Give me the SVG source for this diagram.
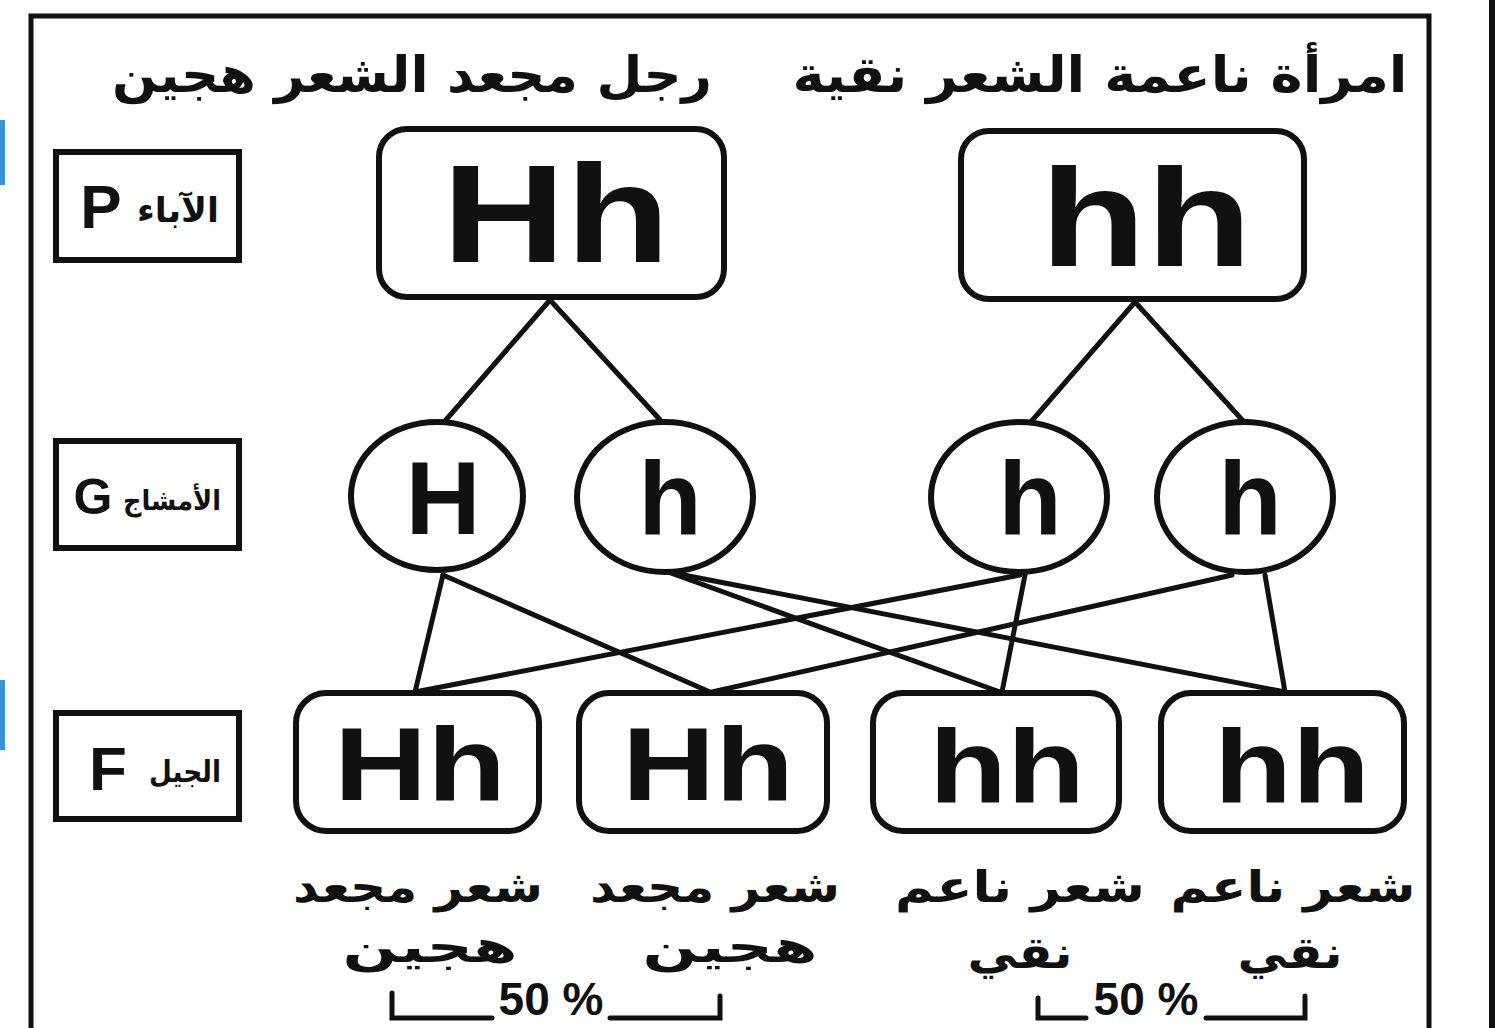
<svg xmlns="http://www.w3.org/2000/svg" width="1504" height="1028" viewBox="0 0 1504 1028">
<style>
.frame{fill:#fff;stroke:#111;stroke-width:5}
.box{fill:#fff;stroke:#111;stroke-width:6}
.lbl{fill:#fff;stroke:#111;stroke-width:6}
.con{stroke:#111;stroke-width:5;fill:none;stroke-linecap:round}
.big{font-family:"Liberation Sans",Arial,sans-serif;font-weight:bold;fill:#111;text-anchor:middle}
.ar{font-family:"DejaVu Sans",sans-serif;font-weight:bold;fill:#111;text-anchor:middle}
.num{font-family:"Liberation Sans",Arial,sans-serif;font-weight:bold;fill:#111;text-anchor:middle;font-size:46px}
</style>
<rect x="0" y="0" width="1504" height="1028" fill="#fff"/>
<rect x="0" y="120" width="5" height="65" fill="#3d8fd8"/>
<rect x="0" y="680" width="5" height="70" fill="#3d8fd8"/>
<rect x="1489" y="0" width="6" height="1028" fill="#111"/>
<rect class="frame" x="31" y="16" width="1398" height="1030"/>

<g id="header-left"><text class="ar" x="412" y="92" font-size="50" textLength="600" lengthAdjust="spacingAndGlyphs" direction="rtl">رجل مجعد الشعر هجين</text></g>
<g id="header-right"><text class="ar" x="1100" y="92" font-size="50" textLength="615" lengthAdjust="spacingAndGlyphs" direction="rtl">امرأة ناعمة الشعر نقية</text></g>

<g id="label-P"><rect class="lbl" x="56" y="152" width="183" height="108"/>
<text class="big" x="101" y="228" font-size="62">P</text>
<text class="ar" x="178" y="222" font-size="34" textLength="82" lengthAdjust="spacingAndGlyphs" direction="rtl">الآباء</text></g>
<g id="label-G"><rect class="lbl" x="56" y="441" width="183" height="107"/>
<text class="big" x="93" y="514" font-size="50">G</text>
<text class="ar" x="172" y="510" font-size="28" textLength="98" lengthAdjust="spacingAndGlyphs" direction="rtl">الأمشاج</text></g>
<g id="label-F"><rect class="lbl" x="56" y="713" width="183" height="106"/>
<text class="big" x="108" y="790" font-size="62">F</text>
<text class="ar" x="185" y="782" font-size="30" textLength="72" lengthAdjust="spacingAndGlyphs" direction="rtl">الجيل</text></g>

<g id="connectors">
<line class="con" x1="550" y1="300" x2="445" y2="421"/>
<line class="con" x1="550" y1="300" x2="663" y2="423"/>
<line class="con" x1="1135" y1="302" x2="1030" y2="423"/>
<line class="con" x1="1135" y1="302" x2="1245" y2="423"/>
<line class="con" x1="443" y1="575" x2="415" y2="692"/>
<line class="con" x1="443" y1="575" x2="710" y2="692"/>
<line class="con" x1="668" y1="572" x2="1000" y2="692"/>
<line class="con" x1="668" y1="572" x2="1285" y2="692"/>
<line class="con" x1="1020" y1="575" x2="415" y2="692"/>
<line class="con" x1="1025" y1="575" x2="1002" y2="692"/>
<line class="con" x1="1232" y1="575" x2="712" y2="692"/>
<line class="con" x1="1265" y1="575" x2="1285" y2="692"/>
</g>

<g id="parent-Hh"><rect class="box" x="379" y="129" width="345" height="168" rx="28"/>
<text class="big" x="556" y="262" font-size="140" textLength="228" lengthAdjust="spacingAndGlyphs">Hh</text></g>
<g id="parent-hh"><rect class="box" x="961" y="131" width="343" height="168" rx="28"/>
<text class="big" x="1146" y="266" font-size="140" textLength="212" lengthAdjust="spacingAndGlyphs">hh</text></g>

<g id="gamete-H"><ellipse class="box" cx="437" cy="496" rx="86" ry="74"/>
<text class="big" x="443" y="534" font-size="104">H</text></g>
<g id="gamete-h1"><ellipse class="box" cx="665" cy="497" rx="88" ry="75"/>
<text class="big" x="670" y="534" font-size="104">h</text></g>
<g id="gamete-h2"><ellipse class="box" cx="1019" cy="497" rx="88" ry="75"/>
<text class="big" x="1030" y="534" font-size="104">h</text></g>
<g id="gamete-h3"><ellipse class="box" cx="1245" cy="497" rx="88" ry="75"/>
<text class="big" x="1250" y="534" font-size="104">h</text></g>

<g id="child-1"><rect class="box" x="296" y="693" width="243" height="138" rx="30"/>
<text class="big" x="420" y="800" font-size="104" textLength="172" lengthAdjust="spacingAndGlyphs">Hh</text></g>
<g id="child-2"><rect class="box" x="579" y="693" width="248" height="138" rx="30"/>
<text class="big" x="708" y="800" font-size="104" textLength="172" lengthAdjust="spacingAndGlyphs">Hh</text></g>
<g id="child-3"><rect class="box" x="873" y="693" width="246" height="138" rx="30"/>
<text class="big" x="1007" y="802" font-size="104" textLength="156" lengthAdjust="spacingAndGlyphs">hh</text></g>
<g id="child-4"><rect class="box" x="1161" y="693" width="243" height="138" rx="30"/>
<text class="big" x="1292" y="802" font-size="104" textLength="156" lengthAdjust="spacingAndGlyphs">hh</text></g>

<g id="desc-1"><text class="ar" x="418" y="902" font-size="44" textLength="250" lengthAdjust="spacingAndGlyphs" direction="rtl">شعر مجعد</text>
<text class="ar" x="430" y="962" font-size="44" textLength="175" lengthAdjust="spacingAndGlyphs" direction="rtl">هجين</text></g>
<g id="desc-2"><text class="ar" x="715" y="902" font-size="44" textLength="250" lengthAdjust="spacingAndGlyphs" direction="rtl">شعر مجعد</text>
<text class="ar" x="730" y="962" font-size="44" textLength="175" lengthAdjust="spacingAndGlyphs" direction="rtl">هجين</text></g>
<g id="desc-3"><text class="ar" x="1020" y="902" font-size="44" textLength="250" lengthAdjust="spacingAndGlyphs" direction="rtl">شعر ناعم</text>
<text class="ar" x="1020" y="968" font-size="44" textLength="105" lengthAdjust="spacingAndGlyphs" direction="rtl">نقي</text></g>
<g id="desc-4"><text class="ar" x="1293" y="902" font-size="44" textLength="245" lengthAdjust="spacingAndGlyphs" direction="rtl">شعر ناعم</text>
<text class="ar" x="1290" y="968" font-size="44" textLength="105" lengthAdjust="spacingAndGlyphs" direction="rtl">نقي</text></g>

<g id="pct-left">
<path class="con" d="M392 993 V1018 H492 M610 1018 H720 V996" stroke-width="6" stroke-linecap="butt"/>
<text class="num" x="551" y="1015">50 %</text></g>
<g id="pct-right">
<path class="con" d="M1038 998 V1018 H1086 M1206 1018 H1305 V996" stroke-width="6" stroke-linecap="butt"/>
<text class="num" x="1146" y="1015">50 %</text></g>
</svg>
